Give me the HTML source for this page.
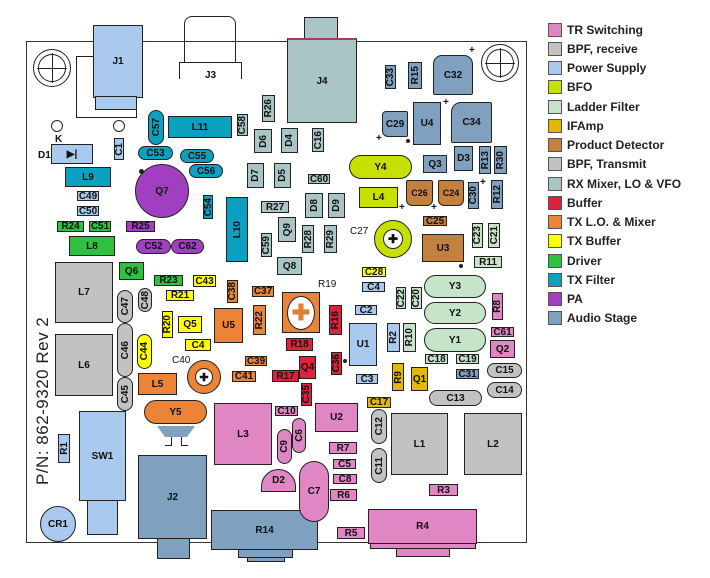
<!DOCTYPE html>
<html><head><meta charset="utf-8"><style>
body{margin:0;width:710px;height:578px;background:#fff;position:relative;overflow:hidden;font-family:"Liberation Sans",sans-serif;}
.c{position:absolute;box-sizing:border-box;border:1.5px solid #222;display:flex;align-items:center;justify-content:center;font:bold 10px "Liberation Sans",sans-serif;color:#111;}
.o{border-radius:999px}
.v span{writing-mode:vertical-rl;transform:rotate(180deg)}
.t{position:absolute;font:bold 10px "Liberation Sans",sans-serif;color:#111}
.pk{background:#e086c4}.gy{background:#c2c2c2}.ps{background:#a9c9ee}.bf{background:#c8e000}.ld{background:#c6e4c8}
.if{background:#e2b800}.pd{background:#c4803e}.rx{background:#a9c5c5}.bu{background:#e0203c}.tl{background:#ec8438}
.tb{background:#ffff00}.dr{background:#30c040}.tf{background:#0ba0c0}.pa{background:#a040c0}.au{background:#80a0c0}
.lg{position:absolute;left:548px;width:14px;height:14px;border:1.5px solid #555;box-sizing:border-box}
.lt{position:absolute;left:567px;font:bold 12px "Liberation Sans",sans-serif;color:#222}
.ln{position:absolute;background:#222}
.hole{position:absolute;border-radius:50%;border:1.5px solid #222;box-sizing:border-box}
</style></head><body>
<!-- board outline -->
<div style="position:absolute;left:26px;top:41px;width:501px;height:502px;border:1.3px solid #333;box-sizing:border-box"></div>

<!-- mounting holes -->
<div class="hole" style="left:33px;top:49px;width:38px;height:38px"></div>
<div class="hole" style="left:38px;top:54px;width:28px;height:28px"></div>
<div class="ln" style="left:37px;top:68px;width:30px;height:1px"></div><div class="ln" style="left:52px;top:53px;width:1px;height:30px"></div>
<div class="hole" style="left:481px;top:44px;width:38px;height:38px"></div>
<div class="hole" style="left:486px;top:49px;width:28px;height:28px"></div>
<div class="ln" style="left:485px;top:63px;width:30px;height:1px"></div><div class="ln" style="left:500px;top:48px;width:1px;height:30px"></div>

<!-- J1 -->
<div style="position:absolute;left:76px;top:56px;width:61px;height:62px;border:1.5px solid #222;box-sizing:border-box"></div>
<div class="c ps" style="left:93px;top:25px;width:50px;height:73px">J1</div>
<div class="c ps" style="left:95px;top:96px;width:42px;height:14px"></div>
<!-- J3 -->
<div style="position:absolute;left:184px;top:16px;width:52px;height:60px;border:1.5px solid #222;border-bottom:none;border-radius:8px 8px 0 0;box-sizing:border-box"></div>
<div style="position:absolute;left:179px;top:62px;width:63px;height:17px;border:1px solid #222;border-bottom:none;box-sizing:border-box;background:#fff"></div>
<div class="t" style="left:205px;top:70px">J3</div>

<div class="hole" style="left:51px;top:120px;width:12px;height:12px"></div>
<div class="hole" style="left:113px;top:120px;width:12px;height:12px"></div>
<div class="t" style="left:55px;top:134px">K</div>
<div class="t" style="left:38px;top:150px">D1</div>
<div class="c ps" style="left:51px;top:144px;width:42px;height:20px">▶|</div>
<div class="c ps v" style="left:114px;top:138px;width:10px;height:22px"><span>C1</span></div>

<div class="c tf o v" style="left:148px;top:110px;width:16px;height:35px"><span>C57</span></div>
<div class="c tf" style="left:168px;top:116px;width:64px;height:22px">L11</div>
<div class="c rx v" style="left:237px;top:114px;width:11px;height:22px"><span>C58</span></div>
<div class="c tf o" style="left:138px;top:146px;width:35px;height:14px">C53</div>
<div class="c tf o" style="left:180px;top:149px;width:34px;height:14px">C55</div>
<div class="c tf o" style="left:189px;top:164px;width:34px;height:14px">C56</div>
<div class="c pa" style="left:135px;top:164px;width:54px;height:54px;border-radius:50%">Q7</div>
<div class="c tf" style="left:65px;top:167px;width:46px;height:20px">L9</div>
<div class="c ps" style="left:77px;top:191px;width:22px;height:10px">C49</div>
<div class="c ps" style="left:77px;top:206px;width:22px;height:10px">C50</div>
<div class="c dr" style="left:57px;top:221px;width:27px;height:11px">R24</div>
<div class="c dr" style="left:89px;top:221px;width:22px;height:11px">C51</div>
<div class="c pa" style="left:126px;top:221px;width:29px;height:11px">R25</div>
<div class="c dr" style="left:69px;top:236px;width:46px;height:20px">L8</div>
<div class="c pa o" style="left:136px;top:239px;width:35px;height:15px">C52</div>
<div class="c pa o" style="left:171px;top:239px;width:33px;height:15px">C62</div>
<div class="c tf v" style="left:203px;top:195px;width:10px;height:24px"><span>C54</span></div>
<div class="c tf v" style="left:226px;top:197px;width:22px;height:65px"><span>L10</span></div>

<div class="c rx v" style="left:262px;top:95px;width:13px;height:27px"><span>R26</span></div>
<div class="c rx v" style="left:254px;top:129px;width:18px;height:24px"><span>D6</span></div>
<div class="c rx v" style="left:281px;top:128px;width:17px;height:25px"><span>D4</span></div>
<div class="c rx v" style="left:312px;top:128px;width:12px;height:24px"><span>C16</span></div>
<div class="c rx v" style="left:247px;top:163px;width:17px;height:25px"><span>D7</span></div>
<div class="c rx v" style="left:274px;top:163px;width:17px;height:25px"><span>D5</span></div>
<div class="c rx" style="left:308px;top:174px;width:22px;height:10px">C60</div>
<div class="c rx" style="left:261px;top:201px;width:28px;height:12px">R27</div>
<div class="c rx v" style="left:305px;top:193px;width:18px;height:25px"><span>D8</span></div>
<div class="c rx v" style="left:328px;top:193px;width:17px;height:25px"><span>D9</span></div>
<div class="c rx v" style="left:278px;top:217px;width:18px;height:25px"><span>Q9</span></div>
<div class="c rx v" style="left:261px;top:233px;width:11px;height:24px"><span>C59</span></div>
<div class="c rx v" style="left:302px;top:225px;width:12px;height:28px"><span>R28</span></div>
<div class="c rx v" style="left:324px;top:225px;width:13px;height:28px"><span>R29</span></div>
<div class="c rx" style="left:277px;top:257px;width:25px;height:18px">Q8</div>

<div class="c dr" style="left:119px;top:262px;width:25px;height:18px">Q6</div>
<div class="c dr" style="left:154px;top:275px;width:29px;height:11px">R23</div>
<div class="c tb" style="left:193px;top:275px;width:23px;height:12px">C43</div>
<div class="c tb" style="left:166px;top:290px;width:28px;height:11px">R21</div>
<div class="c gy" style="left:55px;top:262px;width:58px;height:61px">L7</div>
<div class="c tl v" style="left:227px;top:280px;width:11px;height:23px"><span>C38</span></div>
<div class="c tl" style="left:252px;top:286px;width:22px;height:11px">C37</div>
<div class="t" style="left:318px;top:279px;font-weight:normal">R19</div>
<div class="c tl" style="left:282px;top:292px;width:38px;height:41px"><div style="width:26px;height:32px;background:#fff;border-radius:50%;border:1px solid #222;display:flex;align-items:center;justify-content:center;color:#e08030;font-size:22px;font-weight:bold">✚</div></div>
<div class="c bu v" style="left:329px;top:305px;width:13px;height:30px"><span>R16</span></div>
<div class="c ps" style="left:355px;top:305px;width:22px;height:10px">C2</div>
<div class="c tl" style="left:214px;top:308px;width:29px;height:35px">U5</div>
<div class="c tl v" style="left:253px;top:305px;width:13px;height:30px"><span>R22</span></div>
<div class="c tb" style="left:178px;top:316px;width:24px;height:17px">Q5</div>
<div class="c tb v" style="left:162px;top:311px;width:11px;height:27px"><span>R20</span></div>
<div class="c tb" style="left:185px;top:339px;width:26px;height:12px">C4</div>
<div class="c gy o v" style="left:117px;top:290px;width:16px;height:33px"><span>C47</span></div>
<div class="c gy o v" style="left:138px;top:288px;width:14px;height:24px"><span>C48</span></div>
<div class="c gy o v" style="left:117px;top:323px;width:16px;height:54px"><span>C46</span></div>
<div class="c tb o v" style="left:137px;top:334px;width:15px;height:35px"><span>C44</span></div>
<div class="c gy o v" style="left:117px;top:377px;width:16px;height:34px"><span>C45</span></div>
<div class="c gy" style="left:55px;top:334px;width:58px;height:62px">L6</div>
<div class="c tl" style="left:138px;top:373px;width:39px;height:22px">L5</div>
<div class="t" style="left:172px;top:355px;font-weight:normal">C40</div>
<div class="c tl" style="left:187px;top:360px;width:34px;height:34px;border-radius:50%"><div style="width:16px;height:16px;border-radius:50%;background:#fff;border:1px solid #222;display:flex;align-items:center;justify-content:center;font-size:11px">✚</div></div>
<div class="c tl" style="left:245px;top:356px;width:22px;height:10px">C39</div>
<div class="c tl" style="left:232px;top:371px;width:24px;height:11px">C41</div>
<div class="c tl o" style="left:144px;top:400px;width:63px;height:24px">Y5</div>
<div style="position:absolute;left:157px;top:426px;width:38px;height:0;border-top:11px solid #80a0c0;border-left:8px solid transparent;border-right:8px solid transparent;box-sizing:border-box"></div>
<div class="ln" style="left:171px;top:437px;width:1px;height:8px"></div><div class="ln" style="left:181px;top:437px;width:1px;height:8px"></div>
<div class="ln" style="left:165px;top:445px;width:7px;height:1px"></div><div class="ln" style="left:181px;top:445px;width:7px;height:1px"></div>

<div class="c ps" style="left:79px;top:411px;width:47px;height:90px">SW1</div>
<div class="c ps" style="left:87px;top:500px;width:31px;height:35px;border-width:1px"></div>
<div class="c ps v" style="left:58px;top:434px;width:12px;height:29px"><span>R1</span></div>
<div class="c ps" style="left:40px;top:506px;width:36px;height:36px;border-radius:50%">CR1</div>
<div class="c au" style="left:138px;top:455px;width:69px;height:84px">J2</div>
<div class="c au" style="left:157px;top:538px;width:33px;height:21px"></div>
<div style="position:absolute;left:33px;top:485px;transform:rotate(-90deg);transform-origin:0 0;font:17px 'Liberation Sans',sans-serif;color:#222;white-space:nowrap;letter-spacing:0.5px">P/N: 862-9320 Rev 2</div>

<div class="c pk" style="left:214px;top:403px;width:58px;height:62px">L3</div>
<div class="c pk" style="left:275px;top:406px;width:23px;height:10px">C10</div>
<div class="c pk o v" style="left:277px;top:429px;width:15px;height:35px"><span>C9</span></div>
<div class="c pk o v" style="left:292px;top:418px;width:14px;height:35px"><span>C6</span></div>
<div class="c pk" style="left:315px;top:403px;width:43px;height:29px">U2</div>
<div class="c pk" style="left:261px;top:469px;width:35px;height:23px;border-radius:18px 18px 0 0">D2</div>
<div class="c au" style="left:211px;top:510px;width:107px;height:40px">R14</div>
<div class="c au" style="left:238px;top:549px;width:55px;height:9px"></div>
<div class="c au" style="left:247px;top:557px;width:38px;height:5px;border-width:1px"></div>
<div class="c pk o" style="left:299px;top:461px;width:30px;height:61px">C7</div>
<div class="c pk" style="left:329px;top:442px;width:28px;height:12px">R7</div>
<div class="c pk" style="left:333px;top:459px;width:23px;height:10px">C5</div>
<div class="c pk" style="left:333px;top:474px;width:24px;height:10px">C8</div>
<div class="c pk" style="left:330px;top:489px;width:27px;height:12px">R6</div>
<div class="c pk" style="left:337px;top:527px;width:28px;height:12px">R5</div>
<div class="c pk" style="left:368px;top:509px;width:109px;height:35px">R4</div>
<div class="c pk" style="left:370px;top:543px;width:106px;height:6px;border-width:1px"></div>
<div class="c pk" style="left:396px;top:548px;width:54px;height:9px"></div>
<div class="c pk" style="left:429px;top:484px;width:29px;height:12px">R3</div>
<div class="c gy" style="left:391px;top:413px;width:57px;height:62px">L1</div>
<div class="c gy" style="left:464px;top:413px;width:58px;height:62px">L2</div>
<div class="c gy o v" style="left:371px;top:409px;width:16px;height:35px"><span>C12</span></div>
<div class="c gy o v" style="left:371px;top:448px;width:16px;height:35px"><span>C11</span></div>
<div class="c if" style="left:367px;top:397px;width:24px;height:11px">C17</div>
<div class="c bu v" style="left:301px;top:383px;width:11px;height:23px"><span>C35</span></div>
<div class="c bu" style="left:299px;top:356px;width:17px;height:23px">Q4</div>
<div class="c bu" style="left:272px;top:370px;width:27px;height:12px">R17</div>
<div class="c bu" style="left:286px;top:338px;width:27px;height:13px">R18</div>
<div class="c bu v" style="left:331px;top:352px;width:11px;height:23px"><span>C36</span></div>
<div class="c ps" style="left:349px;top:323px;width:28px;height:43px">U1</div>
<div class="c ps" style="left:356px;top:374px;width:22px;height:10px">C3</div>
<div class="c ps" style="left:362px;top:282px;width:23px;height:10px">C4</div>
<div class="c ps v" style="left:387px;top:323px;width:13px;height:29px"><span>R2</span></div>
<div class="c ld v" style="left:403px;top:323px;width:13px;height:29px"><span>R10</span></div>
<div class="c ld v" style="left:396px;top:287px;width:10px;height:22px"><span>C22</span></div>
<div class="c ld v" style="left:411px;top:287px;width:11px;height:22px"><span>C20</span></div>
<div class="c ld o" style="left:424px;top:275px;width:62px;height:23px">Y3</div>
<div class="c ld o" style="left:424px;top:302px;width:62px;height:22px">Y2</div>
<div class="c ld o" style="left:424px;top:328px;width:62px;height:24px">Y1</div>
<div class="c ld" style="left:425px;top:354px;width:23px;height:10px">C18</div>
<div class="c ld" style="left:456px;top:354px;width:23px;height:10px">C19</div>
<div class="c if v" style="left:392px;top:363px;width:12px;height:28px"><span>R9</span></div>
<div class="c if" style="left:411px;top:367px;width:17px;height:24px">Q1</div>
<div class="c au" style="left:456px;top:369px;width:23px;height:10px">C31</div>
<div class="c gy o" style="left:429px;top:390px;width:53px;height:16px">C13</div>
<div class="c pk v" style="left:492px;top:293px;width:11px;height:27px"><span>R8</span></div>
<div class="c pk" style="left:491px;top:327px;width:23px;height:10px">C61</div>
<div class="c pk" style="left:490px;top:340px;width:25px;height:18px">Q2</div>
<div class="c gy o" style="left:487px;top:363px;width:35px;height:15px">C15</div>
<div class="c gy o" style="left:487px;top:382px;width:35px;height:16px">C14</div>

<!-- top right -->
<div class="c rx" style="left:304px;top:17px;width:34px;height:22px"></div>
<div class="c rx" style="left:287px;top:38px;width:70px;height:85px;border-top:2px solid #a04060">J4</div>
<div class="c au v" style="left:385px;top:65px;width:11px;height:24px"><span>C33</span></div>
<div class="c au v" style="left:408px;top:62px;width:14px;height:27px"><span>R15</span></div>
<div class="c au" style="left:433px;top:55px;width:40px;height:40px;border-radius:9px 9px 2px 2px">C32</div>
<div class="t" style="left:469px;top:45px">+</div>
<div class="c au" style="left:382px;top:111px;width:26px;height:26px;border-radius:4px 2px 2px 6px">C29</div>
<div class="c au" style="left:413px;top:102px;width:28px;height:43px">U4</div>
<div class="c au" style="left:451px;top:102px;width:41px;height:41px;border-radius:10px 2px 2px 2px">C34</div>
<div class="t" style="left:376px;top:133px">+</div><div class="t" style="left:443px;top:97px">+</div>
<div class="c bf o" style="left:349px;top:155px;width:63px;height:24px">Y4</div>
<div class="c au" style="left:423px;top:155px;width:24px;height:18px">Q3</div>
<div class="c au" style="left:454px;top:146px;width:19px;height:25px">D3</div>
<div class="c au v" style="left:479px;top:146px;width:12px;height:28px"><span>R13</span></div>
<div class="c au v" style="left:494px;top:146px;width:13px;height:28px"><span>R30</span></div>
<div class="c bf" style="left:359px;top:187px;width:39px;height:21px">L4</div>
<div class="c pd" style="left:406px;top:180px;width:27px;height:26px;border-radius:2px 2px 6px 6px;font-size:9px">C26</div>
<div class="c pd" style="left:438px;top:180px;width:26px;height:26px;border-radius:2px 2px 6px 6px;font-size:9px">C24</div>
<div class="t" style="left:399px;top:202px">+</div><div class="t" style="left:431px;top:202px">+</div>
<div class="c au v" style="left:468px;top:182px;width:11px;height:27px"><span>C30</span></div>
<div class="t" style="left:480px;top:177px">+</div>
<div class="c au v" style="left:491px;top:180px;width:12px;height:29px"><span>R12</span></div>
<div class="c pd" style="left:423px;top:216px;width:24px;height:10px">C25</div>
<div class="t" style="left:350px;top:226px;font-weight:normal">C27</div>
<div class="c bf" style="left:374px;top:220px;width:38px;height:38px;border-radius:50%"><div style="width:18px;height:18px;border-radius:50%;background:#fff;border:1px solid #222;display:flex;align-items:center;justify-content:center;font-size:12px">✚</div></div>
<div class="c pd" style="left:422px;top:234px;width:42px;height:28px">U3</div>
<div class="c ld v" style="left:472px;top:223px;width:11px;height:25px"><span>C23</span></div>
<div class="c ld v" style="left:488px;top:223px;width:12px;height:25px"><span>C21</span></div>
<div class="c ld" style="left:474px;top:256px;width:28px;height:12px">R11</div>
<div class="c tb" style="left:362px;top:267px;width:24px;height:10px">C28</div>
<div style="position:absolute;left:139px;top:169px;width:5px;height:5px;border-radius:50%;background:#222"></div>
<div style="position:absolute;left:343px;top:359px;width:4px;height:4px;border-radius:50%;background:#222"></div>
<div style="position:absolute;left:406px;top:139px;width:4px;height:4px;border-radius:50%;background:#222"></div>
<div style="position:absolute;left:459px;top:264px;width:4px;height:4px;border-radius:50%;background:#222"></div>

<!-- legend -->
<div class="lg pk" style="top:23px"></div><div class="lt" style="top:23px">TR Switching</div>
<div class="lg gy" style="top:42px"></div><div class="lt" style="top:42px">BPF, receive</div>
<div class="lg ps" style="top:61px"></div><div class="lt" style="top:61px">Power Supply</div>
<div class="lg bf" style="top:80px"></div><div class="lt" style="top:80px">BFO</div>
<div class="lg ld" style="top:100px"></div><div class="lt" style="top:100px">Ladder Filter</div>
<div class="lg if" style="top:119px"></div><div class="lt" style="top:119px">IFAmp</div>
<div class="lg pd" style="top:138px"></div><div class="lt" style="top:138px">Product Detector</div>
<div class="lg gy" style="top:157px"></div><div class="lt" style="top:157px">BPF, Transmit</div>
<div class="lg rx" style="top:177px"></div><div class="lt" style="top:177px">RX Mixer, LO &amp; VFO</div>
<div class="lg bu" style="top:196px"></div><div class="lt" style="top:196px">Buffer</div>
<div class="lg tl" style="top:215px"></div><div class="lt" style="top:215px">TX L.O. &amp; Mixer</div>
<div class="lg tb" style="top:234px"></div><div class="lt" style="top:234px">TX Buffer</div>
<div class="lg dr" style="top:254px"></div><div class="lt" style="top:254px">Driver</div>
<div class="lg tf" style="top:273px"></div><div class="lt" style="top:273px">TX Filter</div>
<div class="lg pa" style="top:292px"></div><div class="lt" style="top:292px">PA</div>
<div class="lg au" style="top:311px"></div><div class="lt" style="top:311px">Audio Stage</div>
</body></html>
